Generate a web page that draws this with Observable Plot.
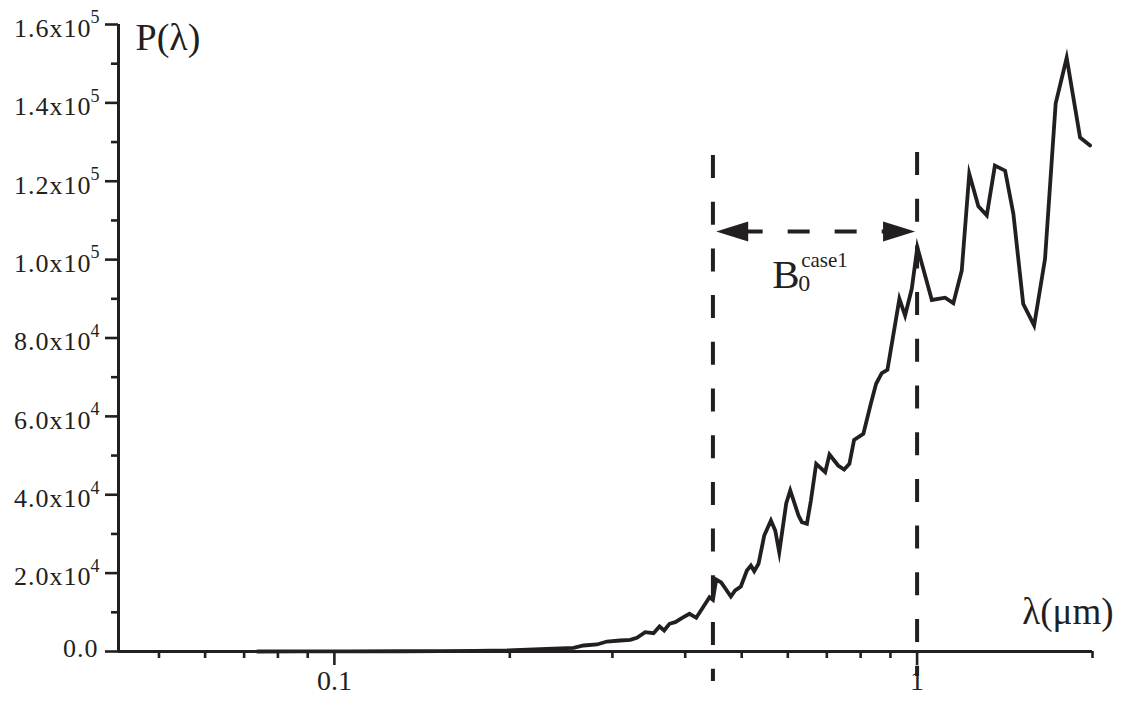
<!DOCTYPE html>
<html><head><meta charset="utf-8">
<script src="https://cdn.jsdelivr.net/npm/d3@7"></script>
<script src="https://cdn.jsdelivr.net/npm/@observablehq/plot@0.6"></script>
<style>html,body{margin:0;padding:0;background:#fff}svg{display:block}</style>
</head><body><div id="chart"></div>
<script>
// wavelength (µm)
const lambda = [0.0738,0.0874,0.1065,0.1298,0.152,0.1745,0.1978,0.2256,0.2573,0.2677,0.2823,0.2936,0.3094,0.3219,0.3305,0.3415,0.3529,0.3614,0.3681,0.3759,0.3845,0.3973,0.4068,0.4178,0.43,0.4403,0.4463,0.4521,0.4611,0.4791,0.4873,0.4984,0.5104,0.5186,0.5254,0.5344,0.5466,0.5613,0.5709,0.58,0.5963,0.6058,0.6259,0.6343,0.647,0.6573,0.6712,0.6955,0.7074,0.732,0.7495,0.7653,0.7796,0.8088,0.8329,0.8505,0.8698,0.8894,0.9325,0.9537,0.9792,1.001,1.06,1.117,1.154,1.193,1.229,1.274,1.317,1.36,1.416,1.463,1.521,1.588,1.658,1.729,1.806,1.904,1.981];
// P(lambda)
const power = [0,20,40,70,110,160,255,590,940,1530,1790,2550,2810,2990,3500,4930,4670,6380,5360,7070,7480,8750,9620,8600,11480,13860,13190,18370,17610,14030,15570,16590,20670,21950,20490,22380,29600,33430,30880,25340,37840,41080,34700,33000,32590,38530,47900,45760,50270,47460,46440,47900,54020,55550,63210,68310,71020,71890,90000,85740,92550,103170,89700,90300,88900,97200,121900,113600,111300,124000,122700,111700,88700,83200,100200,139800,151500,131200,129100];

const yTickValues = [0,20000,40000,60000,80000,100000,120000,140000,160000];
const yTickMantissa = ["0.0","2.0","4.0","6.0","8.0","1.0","1.2","1.4","1.6"];
const yTickExponent = [null,"4","4","4","4","5","5","5","5"];
const yMinorTicks = [10000,30000,50000,70000,90000,110000,130000,150000];
const xTickValues = [0.1, 1];
const xTickLabels = ["0.1", "1"];
const xMinorTicks = [0.05,0.06,0.07,0.08,0.09,0.2,0.3,0.4,0.5,0.6,0.7,0.8,0.9,2];

// B0 band annotation
const bandLambda = [0.4463, 1.0];
const bandTop = [126570, 127335];
const bandBottom = [-7655, -6380];
const arrowP = [107180];
const arrowTips = [0.4521, 0.9921];
const arrowDashRange = [0.499, 0.955];

const ink = "#231f20";
const xDomain = [0.04261, 2];
const data = lambda.map((l, i) => ({l, p: power[i]}));

const headLeft = {draw(c){ c.moveTo(0,0); c.lineTo(32,-10); c.lineTo(32,10); c.closePath(); }};
const headRight = {draw(c){ c.moveTo(0,0); c.lineTo(-32,-10); c.lineTo(-32,10); c.closePath(); }};

const serif = "'Liberation Serif','Times New Roman',serif";

const chart = Plot.plot({
  width: 1124, height: 706,
  marginLeft: 118, marginRight: 32, marginTop: 24, marginBottom: 55,
  style: {fontFamily: serif, color: ink, background: "#fff", overflow: "visible"},
  x: {type: "log", domain: xDomain, axis: null, label: null},
  y: {domain: [0, 160000], axis: null, label: null},
  marks: [
    // axis lines
    Plot.ruleY([0], {stroke: ink, strokeWidth: 3}),
    Plot.ruleX([xDomain[0]], {stroke: ink, strokeWidth: 3}),
    // y ticks
    Plot.axisY({ticks: yTickValues, tickSize: 13, tickFormat: () => "", stroke: ink, strokeWidth: 2.6, label: null}),
    Plot.axisY({ticks: yMinorTicks, tickSize: 7, tickFormat: () => "", stroke: ink, strokeWidth: 2.6, label: null}),
    // x ticks
    Plot.axisX({ticks: xTickValues, tickSize: 14, tickFormat: () => "", stroke: ink, strokeWidth: 2.6, label: null}),
    Plot.axisX({ticks: xMinorTicks, tickSize: 7, tickFormat: () => "", stroke: ink, strokeWidth: 2.6, label: null}),
    // y tick labels
    Plot.text(yTickValues.slice(0,1), {frameAnchor: "left", y: d => d, dx: -20, dy: -3, text: () => yTickMantissa[0], textAnchor: "end", fontSize: 26, fill: ink}),
    Plot.text(yTickValues.slice(1), {frameAnchor: "left", y: d => d, dx: -27, dy: 4, text: (d, i) => yTickMantissa[i + 1] + "x10", textAnchor: "end", fontSize: 26, fill: ink}),
    Plot.text(yTickValues.slice(1), {frameAnchor: "left", y: d => d, dx: -28, dy: -7, text: (d, i) => yTickExponent[i + 1], textAnchor: "start", fontSize: 18, fill: ink}),
    // x tick labels
    Plot.text(xTickValues, {x: d => d, frameAnchor: "bottom", dy: 38, text: (d, i) => xTickLabels[i], fontSize: 28, fill: ink}),
    // axis titles
    Plot.text(["P(λ)"], {frameAnchor: "top-left", dx: 17, dy: -1, text: d => d, textAnchor: "start", fontSize: 38, fill: ink}),
    Plot.text(["λ(μm)"], {frameAnchor: "bottom-right", dx: 21, dy: -28, text: d => d, textAnchor: "end", fontSize: 37, fill: ink}),
    // dashed band lines
    Plot.ruleX(bandLambda, {x: d => d, y1: (d, i) => bandTop[i], y2: (d, i) => bandBottom[i], stroke: ink, strokeWidth: 4, strokeDasharray: "23,23.7"}),
    Plot.ruleY(arrowP, {y: d => d, x1: arrowDashRange[0], x2: arrowDashRange[1], stroke: ink, strokeWidth: 4, strokeDasharray: "22,25"}),
    Plot.dot(arrowP, {x: () => arrowTips[0], y: d => d, symbol: headLeft, fill: ink, stroke: "none"}),
    Plot.dot(arrowP, {x: () => arrowTips[1], y: d => d, symbol: headRight, fill: ink, stroke: "none"}),
    // B0^case1 label
    Plot.text(["B"], {x: () => 0.5641, y: () => 96200, text: d => d, textAnchor: "start", fontSize: 41, fill: ink}),
    Plot.text(["0"], {x: () => 0.5641, y: () => 96200, dx: 26, dy: 9, text: d => d, textAnchor: "start", fontSize: 24, fill: ink}),
    Plot.text(["case1"], {x: () => 0.5641, y: () => 96200, dx: 29, dy: -14, text: d => d, textAnchor: "start", fontSize: 21, fill: ink}),
    // spectrum
    Plot.line(data, {x: "l", y: "p", stroke: ink, strokeWidth: 3.8, strokeLinejoin: "miter", strokeMiterlimit: 10})
  ]
});
// slightly wider letter spacing on the y tick labels, as in the reference typesetting
d3.select(chart).selectAll("text").filter(function(){ return /x10$|^0\.0$/.test(this.textContent); }).style("letter-spacing", "1px");
document.getElementById("chart").append(chart);
</script>
</body></html>
